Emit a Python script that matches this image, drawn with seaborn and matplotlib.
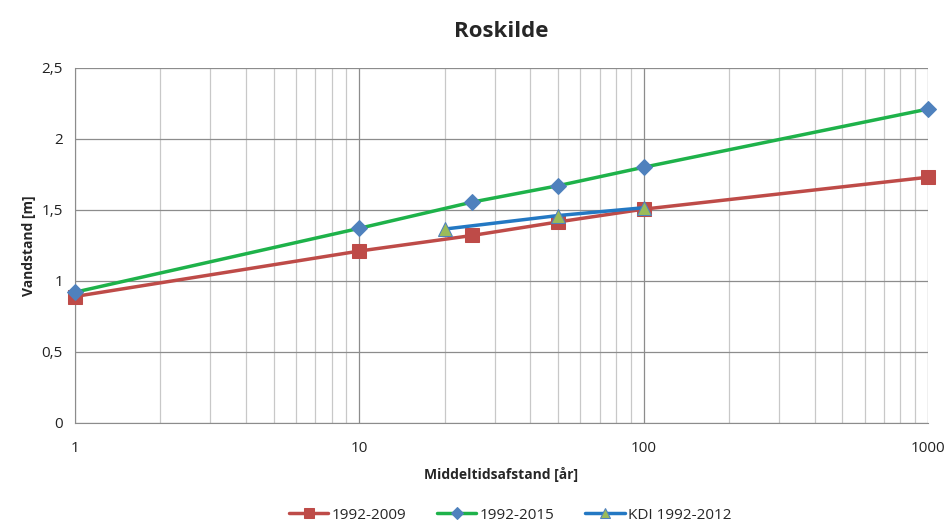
import pandas as pd
import numpy as np
import matplotlib
matplotlib.use("Agg")
import matplotlib.pyplot as plt
import seaborn as sns
from matplotlib.ticker import FixedLocator, FuncFormatter, LogLocator, NullFormatter

# return periods [years] and water levels [m]
x_0909 = [1, 10, 25, 50, 100, 1000]
y_0909 = [0.89, 1.21, 1.32, 1.415, 1.505, 1.73]
x_0915 = [1, 10, 25, 50, 100, 1000]
y_0915 = [0.92, 1.37, 1.555, 1.67, 1.80, 2.21]
x_kdi = [20, 50, 100]
y_kdi = [1.365, 1.46, 1.515]

sns.set_style("white")
plt.rcParams['font.family'] = ['Open Sans', 'DejaVu Sans']

fig = plt.figure(figsize=(9.46, 5.30), dpi=100)
ax = fig.add_axes([0.079, 0.202, 0.902, 0.670])

sns.lineplot(x=x_0909, y=y_0909, ax=ax, color='#BE4B48', lw=2.5, marker='s',
             markersize=10, markeredgecolor='#BE4B48', label='1992-2009', zorder=3)
sns.lineplot(x=x_0915, y=y_0915, ax=ax, color='#1EB24A', lw=2.5, marker='D',
             markersize=8, markerfacecolor='#4F81BD', markeredgecolor='#4F81BD',
             label='1992-2015', zorder=4)
sns.lineplot(x=x_kdi, y=y_kdi, ax=ax, color='#2378C3', lw=2.5, marker='^',
             markersize=10, markerfacecolor='#9BBB59', markeredgecolor='#4F81BD',
             label='KDI 1992-2012', zorder=5)
for ln in ax.lines:
    ln.set_clip_on(False)

ax.set_xscale('log')
ax.set_xlim(1, 1000)
ax.set_ylim(0, 2.5)
ax.yaxis.set_major_locator(FixedLocator([0, 0.5, 1, 1.5, 2, 2.5]))
ax.yaxis.set_major_formatter(FuncFormatter(lambda v, p: ('%g' % v).replace('.', ',')))
ax.xaxis.set_major_locator(FixedLocator([1, 10, 100, 1000]))
ax.xaxis.set_major_formatter(FuncFormatter(lambda v, p: '%d' % v))
ax.xaxis.set_minor_locator(LogLocator(base=10, subs=np.arange(2, 10)))
ax.xaxis.set_minor_formatter(NullFormatter())

ax.grid(True, which='major', color='#8c8c8c', lw=0.9)
ax.grid(True, which='minor', axis='x', color='#c8c8c8', lw=0.9)
for s in ['top', 'right']:
    ax.spines[s].set_visible(False)
for s in ['left', 'bottom']:
    ax.spines[s].set_color('#8c8c8c')
ax.tick_params(axis='both', which='major', length=5, color='#8c8c8c',
               labelsize=11, labelcolor='#222222', direction='out')
ax.tick_params(axis='x', which='minor', length=0)
ax.tick_params(axis='x', pad=8)

ax.set_xlabel('Middeltidsafstand [år]', fontsize=10, fontweight='bold', labelpad=8)
ax.set_ylabel('Vandstand [m]', fontsize=10, fontweight='bold')
ax.set_title('Roskilde', fontsize=16, fontweight='bold', pad=22)

ax.legend(loc='upper center', bbox_to_anchor=(0.51, -0.2), ncol=3, frameon=False,
          fontsize=11, handlelength=2.6, handletextpad=0.2, columnspacing=2.0,
          markerscale=0.75)

fig.savefig('out.png', dpi=100)
